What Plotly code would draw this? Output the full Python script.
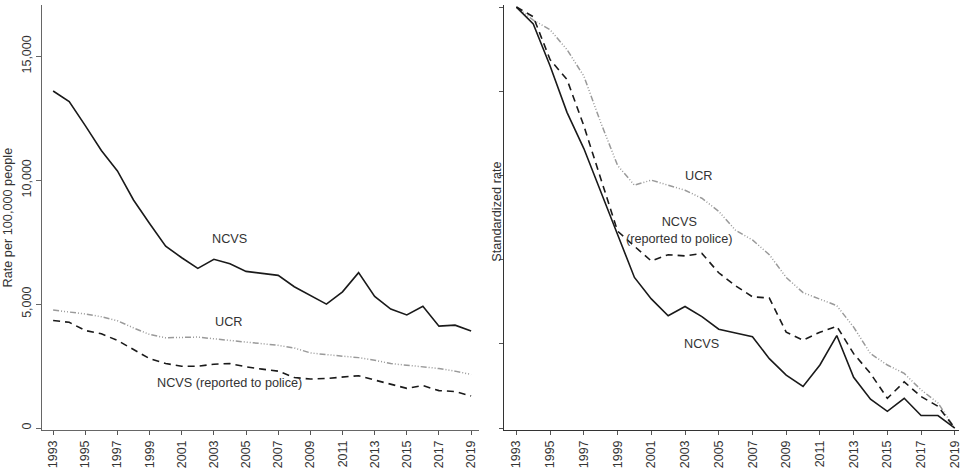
import plotly.graph_objects as go

# Property crime rates, 1993-2019
years = list(range(1993, 2020))

ncvs = [13600, 13175, 12200, 11200, 10375, 9200, 8250, 7340, 6870, 6440,
        6810, 6630, 6320, 6240, 6160, 5700, 5335, 5000, 5495, 6270,
        5310, 4800, 4560, 4910, 4110, 4150, 3910]

ucr = [4760, 4690, 4600, 4490, 4330, 4040, 3775, 3640, 3670, 3670,
       3600, 3535, 3470, 3400, 3335, 3230, 3030, 2960, 2895, 2840,
       2735, 2600, 2535, 2470, 2400, 2295, 2160]

ncvs_police = [4335, 4265, 3935, 3800, 3535, 3175, 2800, 2600, 2495, 2495,
               2575, 2600, 2470, 2375, 2295, 2040, 1975, 2000, 2070, 2110,
               1935, 1775, 1600, 1710, 1510, 1470, 1295]

# Standardized series (1993 = 1, 2019 = 0)
std_ncvs = [1.0, 0.96, 0.86, 0.75, 0.664, 0.56, 0.46, 0.358, 0.307, 0.267,
            0.289, 0.265, 0.235, 0.226, 0.217, 0.165, 0.126, 0.099, 0.15, 0.22,
            0.121, 0.069, 0.04, 0.071, 0.03, 0.03, 0.0]

std_ucr = [1.0, 0.969, 0.946, 0.899, 0.836, 0.726, 0.624, 0.577, 0.589, 0.577,
           0.565, 0.546, 0.515, 0.47, 0.447, 0.412, 0.358, 0.322, 0.307, 0.291,
           0.24, 0.177, 0.15, 0.13, 0.091, 0.06, 0.0]

std_police = [1.0, 0.977, 0.875, 0.828, 0.718, 0.593, 0.468, 0.432, 0.397, 0.412,
              0.409, 0.415, 0.369, 0.338, 0.312, 0.309, 0.228, 0.209, 0.228, 0.242,
              0.177, 0.13, 0.071, 0.11, 0.075, 0.052, 0.0]

year_ticks = list(range(1993, 2020, 2))
rate_ticks = [0, 5000, 10000, 15000]
rate_tick_labels = ["0", "5,000", "10,000", "15,000"]
std_ticks = [0, 0.2, 0.4, 0.6, 0.8, 1.0]

W, H = 969, 468
FONT = "Liberation Sans, Arial, sans-serif"
TXT = "#333333"
TICK_SIZE = 12.5
LABEL_SIZE = 12.7

solid = dict(color="#1a1a1a", width=1.6, dash="solid")
dashed = dict(color="#1a1a1a", width=1.6, dash="7px,5px")
dashdot = dict(color="#9a9a9a", width=1.5, dash="6px,2px,1px,2px,1px,2px,1px,2px")

fig = go.Figure()

# Left panel: rates per 100,000
for vals, style in [(ncvs, solid), (ucr, dashdot), (ncvs_police, dashed)]:
    fig.add_trace(go.Scatter(x=years, y=vals, mode="lines", line=style,
                             xaxis="x", yaxis="y", showlegend=False))

# Right panel: standardized rates
for vals, style in [(std_ucr, dashdot), (std_police, dashed), (std_ncvs, solid)]:
    fig.add_trace(go.Scatter(x=years, y=vals, mode="lines", line=style,
                             xaxis="x2", yaxis="y2", showlegend=False))

ydom = [(H - 434) / H, (H - 5) / H]

xaxis_common = dict(
    tickmode="array", tickvals=year_ticks, tickangle=-90,
    ticks="outside", ticklen=4, tickcolor="#555555",
    showline=True, linewidth=1.3, showgrid=False, zeroline=False,
    tickfont=dict(family=FONT, size=TICK_SIZE, color=TXT),
)

fig.update_layout(
    width=W, height=H,
    margin=dict(l=0, r=0, t=0, b=0),
    paper_bgcolor="white", plot_bgcolor="white",
    font=dict(family=FONT, size=12, color=TXT),
    xaxis=dict(domain=[42 / W, 480 / W], range=[1992.3, 2019.46],
               anchor="y", linecolor="#666666", **xaxis_common),
    yaxis=dict(domain=ydom, range=[-92, 17070], anchor="x",
               tickmode="array", tickvals=rate_ticks, ticktext=rate_tick_labels,
               tickangle=-90, ticks="outside", ticklen=5, tickcolor="#666666",
               showline=True, linewidth=1.3, linecolor="#666666",
               showgrid=False, zeroline=False,
               tickfont=dict(family=FONT, size=TICK_SIZE, color=TXT),
               title=dict(text="Rate per 100,000 people", standoff=4,
                          font=dict(family=FONT, size=LABEL_SIZE, color=TXT))),
    xaxis2=dict(domain=[506 / W, 962 / W], range=[1992.29, 2019.25],
                anchor="y2", linecolor="#333333", **xaxis_common),
    yaxis2=dict(domain=ydom, range=[-0.005, 1.005], anchor="x2",
                tickmode="array", tickvals=std_ticks, showticklabels=False,
                ticks="outside", ticklen=4, tickcolor="#555555",
                showline=True, linewidth=1.3, linecolor="#333333",
                showgrid=False, zeroline=False),
)

# Right-hand axis title, set close to the axis line
fig.add_annotation(x=499 / W, y=(H - 213) / H, xref="paper", yref="paper",
                   text="Standardized rate", textangle=-90, showarrow=False,
                   font=dict(family=FONT, size=LABEL_SIZE, color=TXT),
                   xanchor="center", yanchor="middle")

labels = [
    ("x", "y", 2003.95, 7630, "NCVS"),
    ("x", "y", 2003.95, 4270, "UCR"),
    ("x", "y", 2003.95, 1800, "NCVS (reported to police)"),
    ("x2", "y2", 2003.8, 0.60, "UCR"),
    ("x2", "y2", 2002.7, 0.47, "NCVS<br>(reported to police)"),
    ("x2", "y2", 2003.95, 0.20, "NCVS"),
]
for xr, yr, xv, yv, txt in labels:
    fig.add_annotation(x=xv, y=yv, xref=xr, yref=yr, text=txt, showarrow=False,
                       font=dict(family=FONT, size=LABEL_SIZE, color=TXT),
                       xanchor="center", yanchor="middle", align="center")

fig.write_html("out.html")
